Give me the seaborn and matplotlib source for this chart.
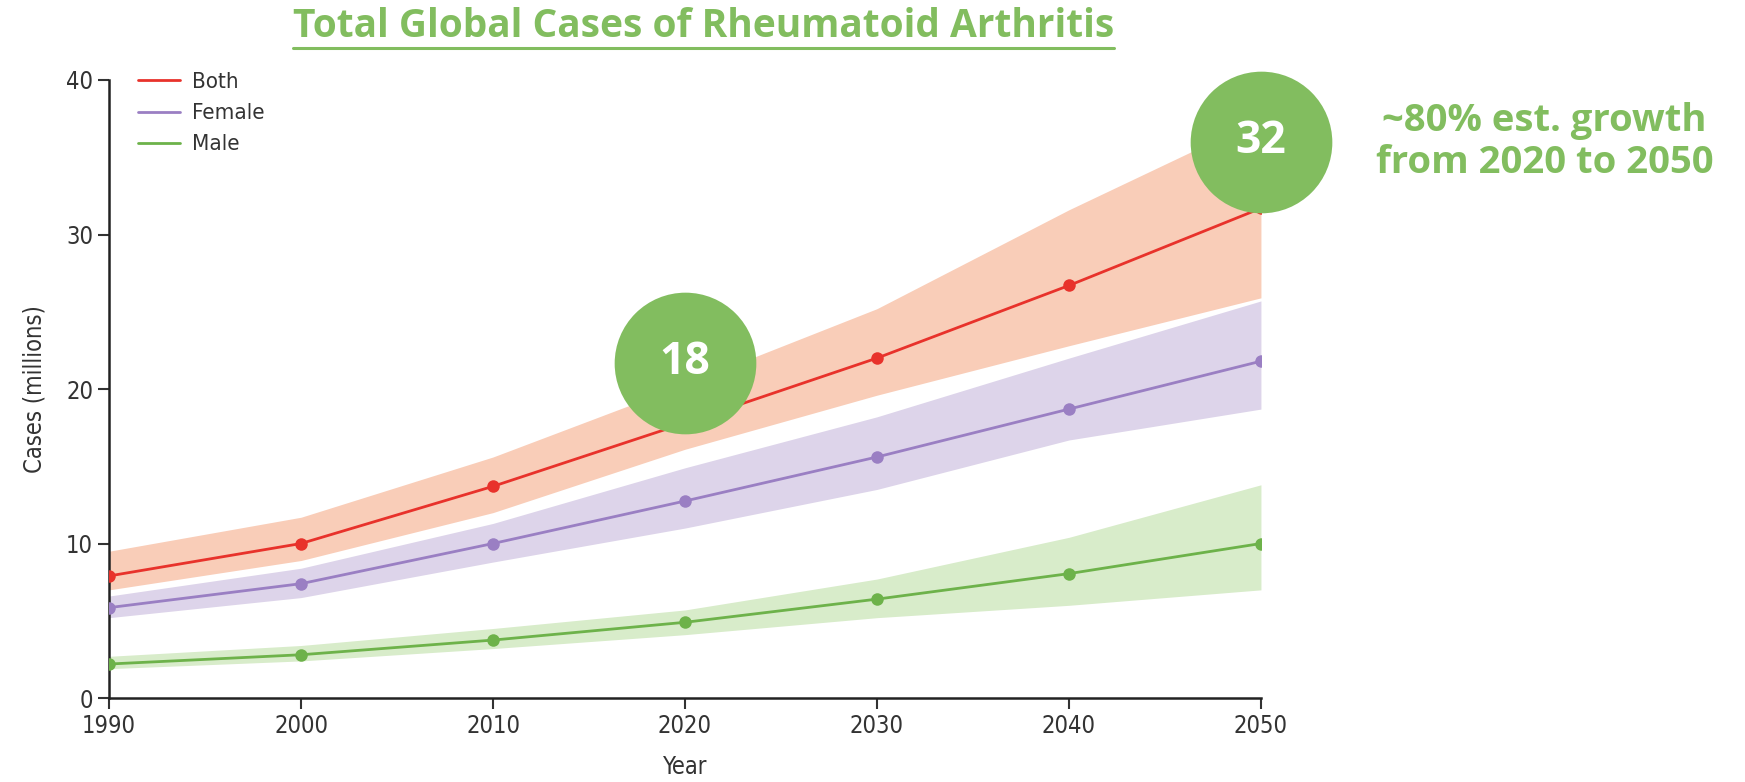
import matplotlib
matplotlib.use("Agg")
import matplotlib.pyplot as plt
import seaborn as sns
import pandas as pd
import numpy as np
from matplotlib.lines import Line2D

years = [1990, 2000, 2010, 2020, 2030, 2040, 2050]
both = [7.9, 10.0, 13.7, 17.8, 22.0, 26.7, 31.7]
both_lo = [7.0, 8.9, 12.0, 16.1, 19.6, 22.8, 25.9]
both_hi = [9.5, 11.7, 15.6, 20.3, 25.2, 31.6, 37.5]
female = [5.85, 7.4, 10.0, 12.75, 15.6, 18.7, 21.8]
female_lo = [5.2, 6.5, 8.8, 11.0, 13.5, 16.7, 18.7]
female_hi = [6.6, 8.4, 11.3, 14.9, 18.2, 22.0, 25.7]
male = [2.2, 2.8, 3.75, 4.9, 6.4, 8.05, 10.0]
male_lo = [1.9, 2.4, 3.2, 4.1, 5.2, 6.0, 7.0]
male_hi = [2.7, 3.4, 4.5, 5.7, 7.7, 10.4, 13.8]

groups = ["Both", "Female", "Male"]
line_colors = ["#e8322b", "#9a7fc3", "#6db24a"]
band_colors = ["#f9cdb8", "#ddd4ea", "#d8ecca"]
accent = "#82bd5f"

bubble_labels = ["18", "32"]
bubble_x = [2020, 2050]
bubble_y = [21.7, 36.0]
note_text = "~80% est. growth\nfrom 2020 to 2050"
title_text = "Total Global Cases of Rheumatoid Arthritis"

sns.set_theme(style="white")
plt.rcParams['font.family'] = ['DejaVu Sans']
plt.rcParams['font.stretch'] = 'condensed'

df = pd.DataFrame({
    "Year": years * 3,
    "Cases": both + female + male,
    "Group": [g for g in groups for _ in years],
})

fig = plt.figure(figsize=(17.45, 7.82), dpi=100)
ax = fig.add_axes([0.0625, 0.1074, 0.6601, 0.7903])

for lo, hi, c in [(both_lo, both_hi, band_colors[0]),
                  (female_lo, female_hi, band_colors[1]),
                  (male_lo, male_hi, band_colors[2])]:
    ax.fill_between(years, lo, hi, color=c, lw=0, zorder=1)

sns.lineplot(data=df, x="Year", y="Cases", hue="Group", palette=line_colors,
             marker="o", markersize=9, markeredgewidth=0, linewidth=2,
             ax=ax, zorder=3, legend=False)

handles = [Line2D([0], [0], color=c, lw=2) for c in line_colors]
leg = ax.legend(handles, groups, loc="upper left", bbox_to_anchor=(0.008, 1.045),
                frameon=False, fontsize=16, handlelength=1.9, handletextpad=0.5,
                labelspacing=0.5)
for t in leg.get_texts():
    t.set_color("#333333")

ax.set_xlim(1990, 2050)
ax.set_ylim(0, 40)
ax.set_xticks(years)
ax.set_yticks([0, 10, 20, 30, 40])
ax.tick_params(axis="both", labelsize=17, colors="#333333", length=8, width=1.5,
               direction="out", left=True, bottom=True)
for s in ["top", "right"]:
    ax.spines[s].set_visible(False)
for s in ["left", "bottom"]:
    ax.spines[s].set_color("#222222")
    ax.spines[s].set_linewidth(1.8)
ax.set_xlabel("Year", fontsize=17, color="#333333", labelpad=12)
ax.set_ylabel("Cases (millions)", fontsize=17, color="#333333", labelpad=14)

# Bubbles
ax.scatter(bubble_x, bubble_y, s=(102) ** 2, color=accent, zorder=5,
           clip_on=False, linewidths=0)
for bx, by, lab in zip(bubble_x, bubble_y, bubble_labels):
    ax.text(bx, by, lab, ha="center", va="center", color="white", fontsize=32,
            fontweight="bold", family=["Open Sans", "DejaVu Sans"],
            fontstretch="normal", zorder=6)

fig.text(0.885, 0.818, note_text, ha="center", va="center", color=accent,
         fontsize=27.5, fontweight="bold", family=["Open Sans", "DejaVu Sans"],
         fontstretch="normal", linespacing=1.15)

t = fig.text(0.403, 0.966, title_text, ha="center", va="center", color=accent,
             fontsize=28, fontweight="bold", family=["Open Sans", "DejaVu Sans"],
             fontstretch="normal")
fig.canvas.draw()
bb = t.get_window_extent().transformed(fig.transFigure.inverted())
fig.add_artist(Line2D([bb.x0, bb.x1], [bb.y0 - 0.003, bb.y0 - 0.003],
                      transform=fig.transFigure, color=accent, lw=2.2))

fig.savefig("out.png", dpi=100, facecolor="white")
